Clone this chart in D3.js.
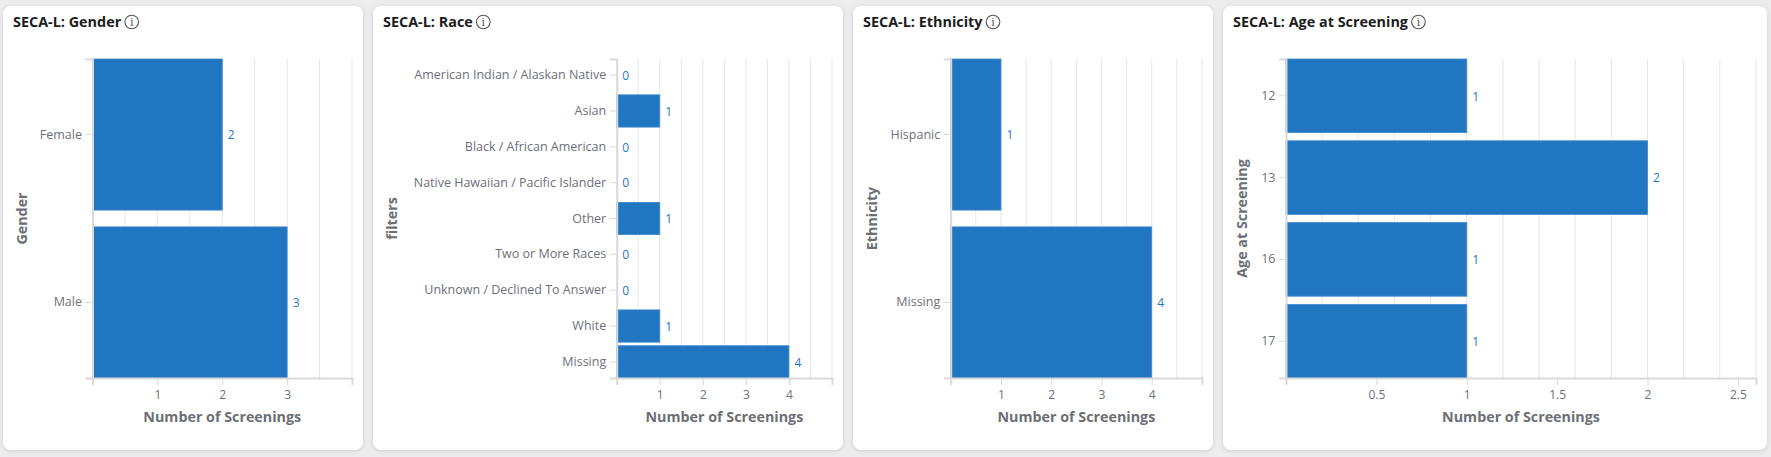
<!DOCTYPE html>
<html>
<head>
<meta charset="utf-8">
<script src="https://cdn.jsdelivr.net/npm/d3@7"></script>
<style>
    html, body {
        margin: 0;
        padding: 0;
        background: #ececee;
        width: 1771px;
        height: 457px;
        overflow: hidden;
        font-family: 'Segoe UI', 'Open Sans', sans-serif;
    }
    .card {
        position: absolute;
        background: #fff;
        border-radius: 8px;
        box-shadow: 0 1px 4px rgba(0, 0, 0, 0.12);
    }
    .card svg {
        display: block;
    }
</style>
</head>
<body>
<script>
// ---- data ----
const genderCategories = ['Female', 'Male'];
const genderCounts = [2, 3];
const genderTicks = [1, 2, 3];

const raceCategories = [
    'American Indian / Alaskan Native',
    'Asian',
    'Black / African American',
    'Native Hawaiian / Pacific Islander',
    'Other',
    'Two or More Races',
    'Unknown / Declined To Answer',
    'White',
    'Missing'
];
const raceCounts = [0, 1, 0, 0, 1, 0, 0, 1, 4];
const raceTicks = [1, 2, 3, 4];

const ethnicityCategories = ['Hispanic', 'Missing'];
const ethnicityCounts = [1, 4];
const ethnicityTicks = [1, 2, 3, 4];

const ageCategories = ['12', '13', '16', '17'];
const ageCounts = [1, 2, 1, 1];
const ageTicks = [0.5, 1, 1.5, 2, 2.5];

const BAR_COLOR = '#2176c1';
const LABEL_COLOR = '#1f77c8';
const TEXT_GRAY = '#6e7079';
const TITLE_GRAY = '#6b6f76';
const LINE_GRAY = '#d9d9d9';
const GRID_GRAY = '#e6e6e6';

const cards = [
    { title: 'SECA-L: Gender', yTitle: 'Gender', categories: genderCategories, counts: genderCounts,
      ticks: genderTicks, xMax: 4, gridStep: 0.5, left: 3, width: 360, marginLeft: 89.5 },
    { title: 'SECA-L: Race', yTitle: 'filters', categories: raceCategories, counts: raceCounts,
      ticks: raceTicks, xMax: 5, gridStep: 0.5, left: 373, width: 470, marginLeft: 243.7 },
    { title: 'SECA-L: Ethnicity', yTitle: 'Ethnicity', categories: ethnicityCategories, counts: ethnicityCounts,
      ticks: ethnicityTicks, xMax: 5, gridStep: 0.5, left: 853, width: 360, marginLeft: 97.7 },
    { title: 'SECA-L: Age at Screening', yTitle: 'Age at Screening', categories: ageCategories, counts: ageCounts,
      ticks: ageTicks, xMax: 2.6, gridStep: 0.2, left: 1223, width: 544, marginLeft: 63 }
];

const cardTop = 6;
const cardHeight = 444;
const plotTop = 53;
const plotBottom = 372;
const marginRight = 11;

function drawCard(cfg) {
    const card = d3.select('body').append('div')
        .attr('class', 'card')
        .style('left', cfg.left + 'px')
        .style('top', cardTop + 'px')
        .style('width', cfg.width + 'px')
        .style('height', cardHeight + 'px');

    const svg = card.append('svg')
        .attr('width', cfg.width)
        .attr('height', cardHeight);

    // title + info icon
    const title = svg.append('text')
        .attr('x', 10)
        .attr('y', 20.7)
        .attr('font-size', '14.4px')
        .attr('font-weight', 700)
        .attr('fill', '#1c1c1c')
        .text(cfg.title);
    const tw = title.node().getComputedTextLength();
    const icon = svg.append('g').attr('transform', `translate(${10 + tw + 10.5},16)`);
    icon.append('circle')
        .attr('r', 6.8)
        .attr('fill', 'none')
        .attr('stroke', '#555')
        .attr('stroke-width', 1.1);
    icon.append('text')
        .attr('text-anchor', 'middle')
        .attr('y', 4)
        .attr('font-size', '11px')
        .attr('font-family', 'DejaVu Serif, serif')
        .attr('fill', '#555')
        .text('i');

    const x = d3.scaleLinear()
        .domain([0, cfg.xMax])
        .range([cfg.marginLeft, cfg.width - marginRight]);

    const y = d3.scaleBand()
        .domain(cfg.categories)
        .range([plotTop, plotBottom])
        .paddingInner(0.1)
        .paddingOuter(0);

    // vertical grid lines
    const gridValues = d3.range(1, Math.round(cfg.xMax / cfg.gridStep) + 1).map(i => +(i * cfg.gridStep).toFixed(4));
    svg.append('g')
        .selectAll('line')
        .data(gridValues)
        .join('line')
        .attr('x1', d => x(d))
        .attr('x2', d => x(d))
        .attr('y1', plotTop)
        .attr('y2', plotBottom)
        .attr('stroke', GRID_GRAY)
        .attr('stroke-width', 1);

    // bars
    svg.append('g')
        .selectAll('rect')
        .data(cfg.categories)
        .join('rect')
        .attr('x', x(0))
        .attr('y', d => y(d))
        .attr('width', (d, i) => x(cfg.counts[i]) - x(0))
        .attr('height', y.bandwidth())
        .attr('fill', BAR_COLOR)
        .attr('stroke', (d, i) => cfg.counts[i] > 0 ? '#3f8ad0' : 'none')
        .attr('stroke-width', 0.8);

    // value labels
    svg.append('g')
        .selectAll('text')
        .data(cfg.categories)
        .join('text')
        .attr('x', (d, i) => x(cfg.counts[i]) + 5.5)
        .attr('y', d => y(d) + y.bandwidth() / 2)
        .attr('dy', '0.4em')
        .attr('font-size', '12px')
        .attr('fill', LABEL_COLOR)
        .text((d, i) => cfg.counts[i]);

    // x axis
    svg.append('g')
        .attr('transform', `translate(0,${plotBottom})`)
        .call(d3.axisBottom(x)
            .tickValues(cfg.ticks)
            .tickSizeInner(7)
            .tickSizeOuter(7)
            .tickPadding(5)
            .tickFormat(d3.format('~g')))
        .call(g => {
            g.attr('font-family', null).attr('font-size', '12px');
            g.select('.domain').attr('stroke', LINE_GRAY).attr('stroke-width', 2);
            g.selectAll('.tick line').attr('stroke', LINE_GRAY);
            g.selectAll('.tick text').attr('fill', TEXT_GRAY);
        });

    // y axis
    svg.append('g')
        .attr('transform', `translate(${cfg.marginLeft},0)`)
        .call(d3.axisLeft(y)
            .tickSizeInner(7)
            .tickSizeOuter(7)
            .tickPadding(3.5))
        .call(g => {
            g.attr('font-family', null).attr('font-size', '12.5px');
            g.select('.domain').attr('stroke', LINE_GRAY).attr('stroke-width', 2);
            g.selectAll('.tick line').attr('stroke', LINE_GRAY);
            g.selectAll('.tick text').attr('fill', TEXT_GRAY);
        });

    // axis titles
    svg.append('text')
        .attr('x', (x.range()[0] + x.range()[1]) / 2)
        .attr('y', 415.7)
        .attr('text-anchor', 'middle')
        .attr('font-size', '14.3px')
        .attr('font-weight', 700)
        .attr('fill', TITLE_GRAY)
        .text('Number of Screenings');

    svg.append('text')
        .attr('transform', `translate(24,${(plotTop + plotBottom) / 2}) rotate(-90)`)
        .attr('text-anchor', 'middle')
        .attr('font-size', '14.3px')
        .attr('font-weight', 700)
        .attr('fill', TITLE_GRAY)
        .text(cfg.yTitle);
}

cards.forEach(drawCard);
</script>
</body>
</html>
